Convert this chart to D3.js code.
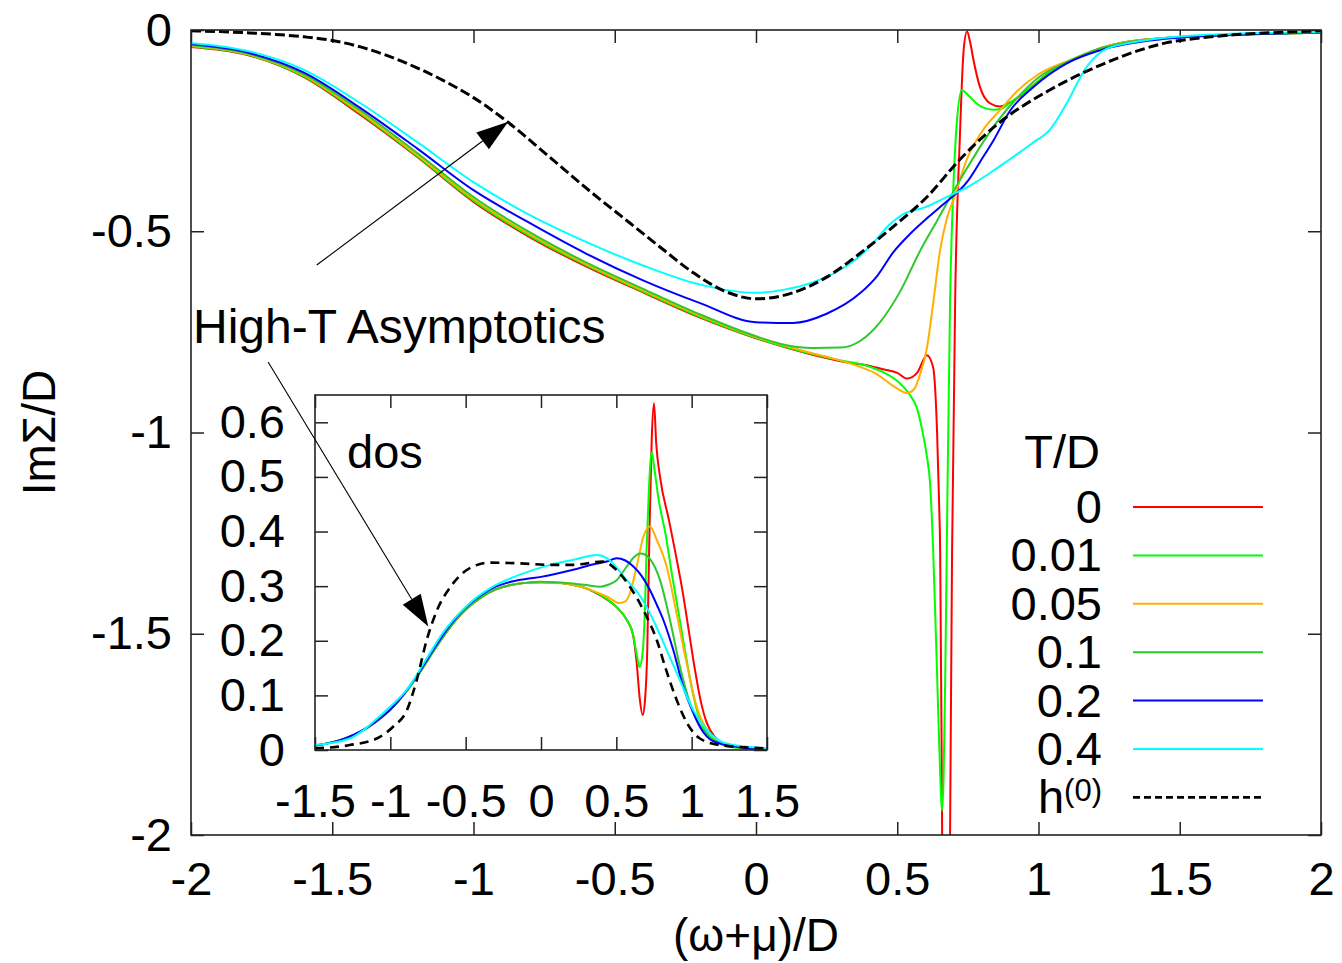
<!DOCTYPE html>
<html>
<head>
<meta charset="utf-8">
<script src="https://cdn.jsdelivr.net/npm/d3@7"></script>
<style>
  body { margin: 0; background: #fff; }
  svg { display: block; }
</style>
</head>
<body>
<div id="chart"></div>
<script>
// ---------------- values ----------------
var tempLabels = ['0', '0.01', '0.05', '0.1', '0.2', '0.4'];
var asymptoticsLabel = 'h';

var mainXTicks = [-2, -1.5, -1, -0.5, 0, 0.5, 1, 1.5, 2];
var mainYTicks = [0, -0.5, -1, -1.5, -2];
var insetXTicks = [-1.5, -1, -0.5, 0, 0.5, 1, 1.5];
var insetYTicks = [0, 0.1, 0.2, 0.3, 0.4, 0.5, 0.6];

// Im Sigma / D  vs  (w+mu)/D
var sigmaT0 = [[-2.0,-0.042],[-1.8,-0.062],[-1.6,-0.117],[-1.4,-0.211],[-1.2,-0.315],[-1.0,-0.427],[-0.8,-0.515],[-0.6,-0.588],[-0.4,-0.652],[-0.2,-0.714],[0.0,-0.766],[0.2,-0.807],[0.3,-0.823],[0.4,-0.834],[0.45,-0.843],[0.5,-0.852],[0.535,-0.866],[0.57,-0.852],[0.605,-0.808],[0.627,-0.838],[0.641,-1.0],[0.648,-1.17],[0.652,-1.3],[0.659,-2.0],[0.666,-2.7],[0.68,-2.7],[0.687,-2.0],[0.694,-1.3],[0.705,-0.67],[0.722,-0.26],[0.735,-0.05],[0.747,-0.004],[0.758,-0.03],[0.77,-0.075],[0.793,-0.142],[0.828,-0.182],[0.864,-0.19],[0.9,-0.18],[0.96,-0.15],[1.04,-0.105],[1.1,-0.082],[1.2,-0.05],[1.3,-0.031],[1.45,-0.02],[1.7,-0.012],[2.0,-0.007]];
var sigmaT001 = [[-2.0,-0.041],[-1.8,-0.061],[-1.6,-0.115],[-1.4,-0.208],[-1.2,-0.313],[-1.0,-0.424],[-0.8,-0.512],[-0.6,-0.585],[-0.4,-0.65],[-0.2,-0.712],[0.0,-0.765],[0.2,-0.805],[0.3,-0.821],[0.4,-0.836],[0.45,-0.85],[0.5,-0.872],[0.545,-0.907],[0.57,-0.94],[0.59,-1.0],[0.605,-1.06],[0.616,-1.125],[0.627,-1.29],[0.641,-1.6],[0.652,-1.85],[0.658,-1.94],[0.664,-1.86],[0.67,-1.6],[0.676,-1.25],[0.687,-0.67],[0.697,-0.42],[0.712,-0.22],[0.729,-0.149],[0.745,-0.158],[0.76,-0.168],[0.78,-0.182],[0.805,-0.193],[0.84,-0.198],[0.87,-0.195],[0.9,-0.18],[0.96,-0.15],[1.04,-0.105],[1.1,-0.082],[1.2,-0.05],[1.3,-0.031],[1.45,-0.02],[1.7,-0.012],[2.0,-0.007]];
var sigmaT005 = [[-2.0,-0.039],[-1.8,-0.06],[-1.6,-0.113],[-1.4,-0.205],[-1.2,-0.31],[-1.0,-0.42],[-0.8,-0.508],[-0.6,-0.582],[-0.4,-0.647],[-0.2,-0.709],[0.0,-0.763],[0.2,-0.803],[0.25,-0.812],[0.368,-0.837],[0.43,-0.856],[0.485,-0.884],[0.535,-0.902],[0.56,-0.892],[0.581,-0.855],[0.605,-0.79],[0.627,-0.68],[0.651,-0.55],[0.675,-0.47],[0.7,-0.42],[0.747,-0.32],[0.804,-0.248],[0.864,-0.199],[0.924,-0.152],[1.0,-0.11],[1.1,-0.078],[1.2,-0.05],[1.3,-0.031],[1.45,-0.02],[1.7,-0.012],[2.0,-0.007]];
var sigmaT01 = [[-2.0,-0.037],[-1.8,-0.058],[-1.6,-0.11],[-1.4,-0.2],[-1.2,-0.305],[-1.0,-0.415],[-0.8,-0.503],[-0.6,-0.578],[-0.4,-0.643],[-0.2,-0.706],[0.0,-0.761],[0.1,-0.782],[0.2,-0.79],[0.3,-0.789],[0.37,-0.772],[0.44,-0.725],[0.51,-0.65],[0.58,-0.55],[0.64,-0.475],[0.7,-0.4],[0.75,-0.34],[0.8,-0.283],[0.86,-0.222],[0.92,-0.172],[1.0,-0.118],[1.1,-0.08],[1.2,-0.05],[1.3,-0.032],[1.45,-0.02],[1.7,-0.012],[2.0,-0.007]];
var sigmaT02 = [[-2.0,-0.035],[-1.8,-0.056],[-1.6,-0.106],[-1.4,-0.194],[-1.2,-0.294],[-1.0,-0.398],[-0.8,-0.48],[-0.6,-0.556],[-0.4,-0.622],[-0.2,-0.678],[0.0,-0.726],[0.13,-0.728],[0.25,-0.705],[0.37,-0.653],[0.43,-0.61],[0.485,-0.553],[0.545,-0.507],[0.605,-0.468],[0.66,-0.435],[0.75,-0.375],[0.8,-0.32],[0.84,-0.275],[0.9,-0.2],[0.98,-0.143],[1.1,-0.083],[1.22,-0.05],[1.45,-0.022],[1.7,-0.012],[2.0,-0.006]];
var sigmaT04 = [[-2.0,-0.032],[-1.8,-0.052],[-1.6,-0.099],[-1.4,-0.182],[-1.2,-0.278],[-1.0,-0.378],[-0.8,-0.46],[-0.6,-0.527],[-0.4,-0.585],[-0.2,-0.632],[0.0,-0.653],[0.1,-0.645],[0.2,-0.627],[0.3,-0.595],[0.37,-0.56],[0.42,-0.525],[0.47,-0.485],[0.52,-0.458],[0.6,-0.44],[0.66,-0.42],[0.75,-0.39],[0.86,-0.34],[0.98,-0.28],[1.04,-0.248],[1.1,-0.182],[1.17,-0.092],[1.24,-0.047],[1.34,-0.03],[1.57,-0.013],[2.0,-0.005]];
var sigmaH0 = [[-2.0,-0.002],[-1.9,-0.004],[-1.8,-0.007],[-1.7,-0.011],[-1.6,-0.017],[-1.5,-0.026],[-1.4,-0.042],[-1.3,-0.065],[-1.2,-0.094],[-1.1,-0.128],[-1.0,-0.168],[-0.88,-0.228],[-0.74,-0.31],[-0.58,-0.405],[-0.46,-0.472],[-0.34,-0.539],[-0.22,-0.604],[-0.1,-0.652],[0.0,-0.668],[0.13,-0.653],[0.25,-0.614],[0.37,-0.554],[0.485,-0.489],[0.605,-0.415],[0.72,-0.323],[0.86,-0.231],[1.04,-0.149],[1.22,-0.087],[1.35,-0.052],[1.45,-0.032],[1.57,-0.02],[1.69,-0.012],[1.85,-0.006],[2.0,-0.002]];

// density of states (inset)
var dosT0 = [[-1.5,0.008],[-1.4,0.013],[-1.3,0.021],[-1.2,0.033],[-1.1,0.051],[-1.0,0.074],[-0.9,0.105],[-0.8,0.144],[-0.7,0.187],[-0.6,0.226],[-0.5,0.257],[-0.4,0.279],[-0.3,0.294],[-0.2,0.302],[-0.1,0.306],[0.0,0.307],[0.1,0.306],[0.2,0.303],[0.3,0.296],[0.4,0.282],[0.5,0.262],[0.57,0.238],[0.61,0.212],[0.635,0.16],[0.655,0.095],[0.675,0.064],[0.69,0.09],[0.705,0.18],[0.72,0.4],[0.735,0.57],[0.75,0.635],[0.765,0.56],[0.79,0.5],[0.85,0.42],[0.9,0.35],[0.94,0.29],[0.98,0.22],[1.02,0.15],[1.06,0.09],[1.1,0.05],[1.15,0.025],[1.2,0.013],[1.3,0.005],[1.5,0.001]];
var dosT001 = [[-1.5,0.008],[-1.4,0.013],[-1.3,0.021],[-1.2,0.033],[-1.1,0.051],[-1.0,0.074],[-0.9,0.105],[-0.8,0.144],[-0.7,0.187],[-0.6,0.226],[-0.5,0.257],[-0.4,0.279],[-0.3,0.294],[-0.2,0.302],[-0.1,0.306],[0.0,0.307],[0.1,0.306],[0.2,0.303],[0.3,0.296],[0.4,0.283],[0.5,0.262],[0.57,0.238],[0.61,0.213],[0.635,0.175],[0.655,0.152],[0.675,0.18],[0.69,0.26],[0.7,0.36],[0.715,0.47],[0.735,0.545],[0.75,0.52],[0.78,0.46],[0.83,0.39],[0.87,0.32],[0.92,0.24],[0.96,0.175],[1.0,0.115],[1.04,0.068],[1.1,0.032],[1.2,0.01],[1.3,0.004],[1.5,0.001]];
var dosT005 = [[-1.5,0.008],[-1.4,0.013],[-1.3,0.021],[-1.2,0.033],[-1.1,0.051],[-1.0,0.074],[-0.9,0.105],[-0.8,0.144],[-0.7,0.187],[-0.6,0.226],[-0.5,0.257],[-0.4,0.279],[-0.3,0.294],[-0.2,0.302],[-0.1,0.306],[0.0,0.307],[0.1,0.306],[0.2,0.303],[0.3,0.296],[0.436,0.281],[0.524,0.269],[0.56,0.272],[0.59,0.287],[0.635,0.336],[0.68,0.391],[0.723,0.409],[0.768,0.385],[0.834,0.336],[0.9,0.25],[0.967,0.159],[1.033,0.079],[1.12,0.031],[1.28,0.006],[1.5,0.001]];
var dosT01 = [[-1.5,0.008],[-1.4,0.013],[-1.3,0.021],[-1.2,0.033],[-1.1,0.051],[-1.0,0.074],[-0.9,0.105],[-0.8,0.144],[-0.7,0.187],[-0.6,0.226],[-0.5,0.257],[-0.4,0.279],[-0.3,0.294],[-0.2,0.302],[-0.1,0.306],[0.0,0.308],[0.212,0.305],[0.3,0.302],[0.392,0.299],[0.45,0.303],[0.502,0.311],[0.569,0.336],[0.62,0.354],[0.657,0.36],[0.69,0.358],[0.723,0.35],[0.79,0.311],[0.856,0.238],[0.922,0.153],[0.989,0.086],[1.077,0.037],[1.232,0.009],[1.5,0.001]];
var dosT02 = [[-1.5,0.008],[-1.3,0.021],[-1.1,0.051],[-1.0,0.074],[-0.9,0.106],[-0.8,0.146],[-0.7,0.19],[-0.6,0.23],[-0.5,0.261],[-0.4,0.283],[-0.3,0.299],[-0.2,0.308],[-0.1,0.313],[0.0,0.317],[0.2,0.329],[0.35,0.34],[0.436,0.345],[0.502,0.351],[0.56,0.347],[0.613,0.336],[0.67,0.318],[0.723,0.293],[0.77,0.265],[0.812,0.238],[0.878,0.183],[0.944,0.116],[1.0,0.075],[1.06,0.04],[1.144,0.016],[1.32,0.005],[1.5,0.001]];
var dosT04 = [[-1.5,0.009],[-1.27,0.021],[-1.05,0.067],[-0.87,0.118],[-0.76,0.167],[-0.65,0.215],[-0.5,0.262],[-0.32,0.299],[-0.14,0.321],[0.06,0.339],[0.21,0.348],[0.37,0.357],[0.44,0.351],[0.55,0.317],[0.66,0.281],[0.745,0.238],[0.834,0.183],[0.922,0.128],[1.01,0.073],[1.1,0.037],[1.23,0.012],[1.5,0.003]];
var dosH0 = [[-1.5,0.003],[-1.27,0.009],[-1.09,0.021],[-0.98,0.043],[-0.89,0.073],[-0.825,0.128],[-0.76,0.2],[-0.69,0.256],[-0.6,0.299],[-0.49,0.33],[-0.34,0.343],[-0.16,0.342],[0.06,0.339],[0.21,0.339],[0.41,0.345],[0.5,0.33],[0.59,0.299],[0.68,0.256],[0.77,0.2],[0.83,0.147],[0.9,0.092],[0.97,0.049],[1.055,0.021],[1.19,0.009],[1.5,0.003]];

// ---------------- chart ----------------
var attrs = {
  svgWidth: 1342,
  svgHeight: 963,
  font: '"Liberation Sans", Arial, Helvetica, sans-serif',
  fontSize: 47,
  frameColor: '#222',
  tickLength: 13,
  colors: ['#ff0000', '#00ff00', '#ffb000', '#2ec82e', '#0000ff', '#00ffff'],
  lineWidth: 2,
  main: { left: 191, right: 1321, top: 30, bottom: 835 },
  inset: { left: 315, right: 767, top: 395, bottom: 750 },
  legend: { textX: 1102, lineX1: 1133, lineX2: 1263, titleY: 468, firstY: 507, step: 48.4 }
};

var mainSeries = [sigmaT0, sigmaT001, sigmaT005, sigmaT01, sigmaT02, sigmaT04];
var insetSeries = [dosT0, dosT001, dosT005, dosT01, dosT02, dosT04];

var fmt = function (d) { return String(d); };

//Add svg
var svg = d3.select('#chart').append('svg')
  .attr('width', attrs.svgWidth)
  .attr('height', attrs.svgHeight)
  .attr('font-family', attrs.font);

var scales = {
  x: d3.scaleLinear().domain([-2, 2]).range([attrs.main.left, attrs.main.right]),
  y: d3.scaleLinear().domain([-2, 0]).range([attrs.main.bottom, attrs.main.top]),
  ix: d3.scaleLinear().domain([-1.5, 1.5]).range([attrs.inset.left, attrs.inset.right]),
  iy: d3.scaleLinear().domain([0, 0.65]).range([attrs.inset.bottom, attrs.inset.top])
};

var defs = svg.append('defs');
addClip('clip-main', attrs.main);
addClip('clip-inset', attrs.inset);

drawAxes(scales.x, scales.y, attrs.main, mainXTicks, mainYTicks, 27, 19);
drawCurves(scales.x, scales.y, mainSeries, sigmaH0, 'clip-main', { width: 3, dash: '10,4' });
drawFrame(attrs.main, false);

drawFrame(attrs.inset, true);
drawAxes(scales.ix, scales.iy, attrs.inset, insetXTicks, insetYTicks, 34, 30);
drawCurves(scales.ix, scales.iy, insetSeries, dosH0, 'clip-inset', { width: 2.6, dash: '9,6' });
drawFrame(attrs.inset, false);

drawLabels();
drawAnnotations();
drawLegend();

function addClip(id, box) {
  defs.append('clipPath').attr('id', id)
    .append('rect')
    .attr('x', box.left).attr('y', box.top)
    .attr('width', box.right - box.left).attr('height', box.bottom - box.top);
}

function drawFrame(box, filled) {
  svg.append('rect')
    .attr('x', box.left).attr('y', box.top)
    .attr('width', box.right - box.left).attr('height', box.bottom - box.top)
    .attr('fill', filled ? '#fff' : 'none')
    .attr('stroke', filled ? 'none' : attrs.frameColor)
    .attr('stroke-width', 1.6);
}

function styleAxis(g, withText) {
  g.select('.domain').remove();
  g.attr('color', attrs.frameColor)
    .attr('font-size', attrs.fontSize)
    .attr('font-family', attrs.font);
  g.selectAll('.tick line').attr('stroke-width', 1.5);
  if (!withText) g.selectAll('.tick text').remove();
  else g.selectAll('.tick text').attr('fill', '#000');
}

function drawAxes(x, y, box, xTicks, yTicks, xPad, yPad) {
  var t = -attrs.tickLength;

  svg.append('g')
    .attr('transform', 'translate(0,' + box.bottom + ')')
    .call(d3.axisBottom(x).tickValues(xTicks).tickSizeInner(t).tickSizeOuter(0).tickPadding(xPad).tickFormat(fmt))
    .call(styleAxis, true);

  svg.append('g')
    .attr('transform', 'translate(0,' + box.top + ')')
    .call(d3.axisTop(x).tickValues(xTicks).tickSizeInner(t).tickSizeOuter(0))
    .call(styleAxis, false);

  svg.append('g')
    .attr('transform', 'translate(' + box.left + ',0)')
    .call(d3.axisLeft(y).tickValues(yTicks).tickSizeInner(t).tickSizeOuter(0).tickPadding(yPad).tickFormat(fmt))
    .call(styleAxis, true);

  svg.append('g')
    .attr('transform', 'translate(' + box.right + ',0)')
    .call(d3.axisRight(y).tickValues(yTicks).tickSizeInner(t).tickSizeOuter(0))
    .call(styleAxis, false);
}

function drawCurves(x, y, series, asym, clipId, dashStyle) {
  var line = d3.line()
    .x(function (d) { return x(d[0]); })
    .y(function (d) { return y(d[1]); })
    .curve(d3.curveMonotoneX);

  var g = svg.append('g').attr('clip-path', 'url(#' + clipId + ')');

  g.selectAll('.curve')
    .data(series)
    .enter()
    .append('path')
    .attr('class', 'curve')
    .attr('d', line)
    .attr('fill', 'none')
    .attr('stroke', function (d, i) { return attrs.colors[i]; })
    .attr('stroke-width', attrs.lineWidth)
    .attr('stroke-linejoin', 'round');

  g.append('path')
    .datum(asym)
    .attr('d', line)
    .attr('fill', 'none')
    .attr('stroke', '#000')
    .attr('stroke-width', dashStyle.width)
    .attr('stroke-dasharray', dashStyle.dash);
}

function drawLabels() {
  // y axis title
  svg.append('text')
    .attr('transform', 'translate(55,' + (attrs.main.top + attrs.main.bottom) / 2 + ') rotate(-90)')
    .attr('text-anchor', 'middle')
    .attr('font-size', 46)
    .text('ImΣ/D');

  // x axis title
  svg.append('text')
    .attr('x', (attrs.main.left + attrs.main.right) / 2)
    .attr('y', 951)
    .attr('text-anchor', 'middle')
    .attr('font-size', 46)
    .text('(ω+μ)/D');

  // inset title
  svg.append('text')
    .attr('x', attrs.inset.left + 32)
    .attr('y', 468)
    .attr('font-size', attrs.fontSize)
    .text('dos');
}

function drawAnnotations() {
  // text anchored in main-plot data coordinates
  svg.append('text')
    .attr('x', scales.x(-1.993))
    .attr('y', scales.y(-0.778))
    .attr('font-size', 48)
    .text('High-T Asymptotics');

  var arrows = [
    { from: [scales.x(-1.555), scales.y(-0.584)], to: [scales.x(-0.877), scales.y(-0.228)] },
    { from: [scales.x(-1.727), scales.y(-0.825)], to: [scales.ix(-0.748), scales.iy(0.226)] }
  ];

  arrows.forEach(function (a) {
    var ang = Math.atan2(a.to[1] - a.from[1], a.to[0] - a.from[0]);
    var len = 32, half = 10.5;
    var bx = a.to[0] - len * Math.cos(ang), by = a.to[1] - len * Math.sin(ang);
    var px = -Math.sin(ang) * half, py = Math.cos(ang) * half;

    svg.append('line')
      .attr('x1', a.from[0]).attr('y1', a.from[1])
      .attr('x2', bx).attr('y2', by)
      .attr('stroke', '#000')
      .attr('stroke-width', 1.1);

    svg.append('path')
      .attr('d', 'M' + a.to[0] + ',' + a.to[1] +
        'L' + (bx + px) + ',' + (by + py) +
        'L' + (bx - px) + ',' + (by - py) + 'Z')
      .attr('fill', '#000');
  });
}

function drawLegend() {
  var L = attrs.legend;
  var g = svg.append('g').attr('font-size', attrs.fontSize);

  g.append('text')
    .attr('x', L.textX - 2)
    .attr('y', L.titleY)
    .attr('text-anchor', 'end')
    .text('T/D');

  var entries = tempLabels.map(function (t, i) {
    return { label: t, color: attrs.colors[i], dash: null, width: attrs.lineWidth };
  });
  entries.push({ label: asymptoticsLabel, sup: '(0)', color: '#000', dash: '7,4', width: 2.6 });

  var rows = g.selectAll('.legend-row')
    .data(entries)
    .enter()
    .append('g')
    .attr('class', 'legend-row')
    .attr('transform', function (d, i) { return 'translate(0,' + (L.firstY + i * L.step) + ')'; });

  rows.append('line')
    .attr('x1', L.lineX1).attr('x2', L.lineX2)
    .attr('y1', 0).attr('y2', 0)
    .attr('stroke', function (d) { return d.color; })
    .attr('stroke-width', function (d) { return d.width; })
    .attr('stroke-dasharray', function (d) { return d.dash; });

  var txt = rows.append('text')
    .attr('x', L.textX)
    .attr('y', 16)
    .attr('text-anchor', 'end');

  txt.append('tspan').text(function (d) { return d.label; });
  txt.filter(function (d) { return d.sup; })
    .append('tspan')
    .attr('dy', -12)
    .attr('font-size', 31)
    .text(function (d) { return d.sup; });
}
</script>
</body>
</html>
